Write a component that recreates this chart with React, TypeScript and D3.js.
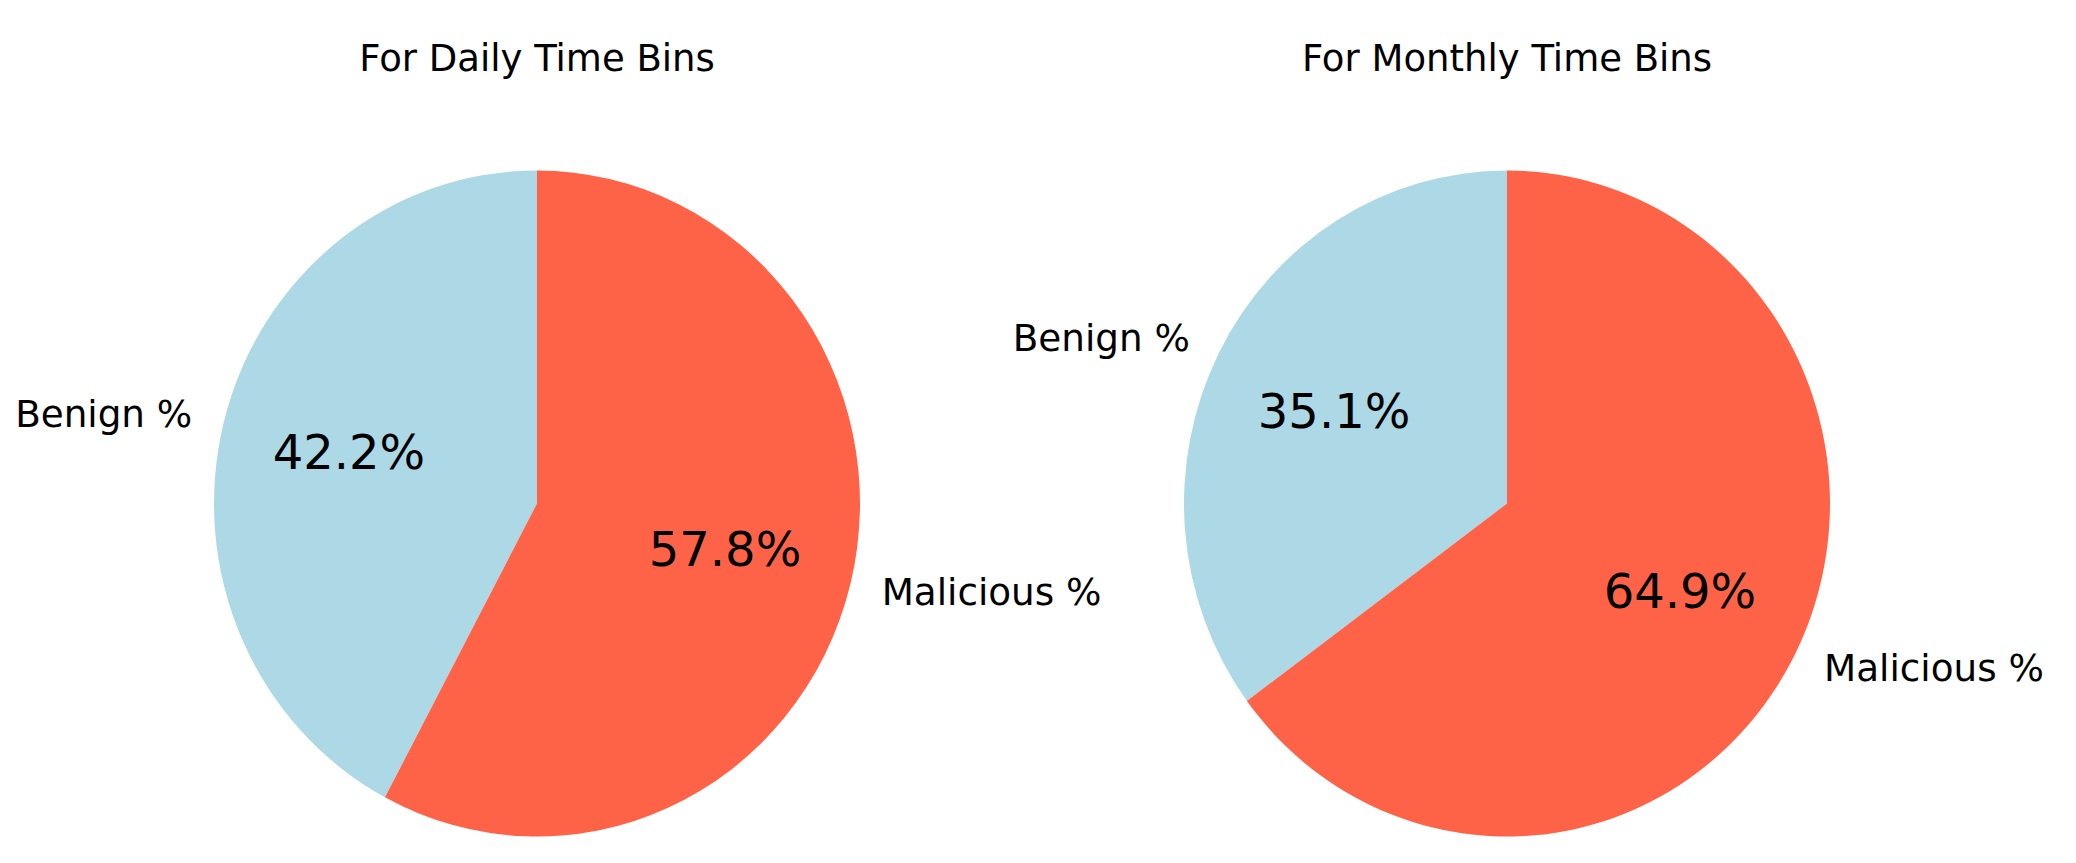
import React from "react";
import * as d3 from "d3";

const categories = ["Benign %", "Malicious %"];
const dailyValues = [42.2, 57.8];
const monthlyValues = [35.1, 64.9];
const titles = ["For Daily Time Bins", "For Monthly Time Bins"];
const colors = ["#ADD8E6", "#FF6347"];

const W = 2076;
const H = 863;
const RX = 323;
const RY = 333;
const CY = 503.5;
const CXS = [537, 1507];

function Pie({ cx, values, title }: { cx: number; values: number[]; title: string }) {
  const data = categories.map((c, i) => ({ label: c, value: values[i], color: colors[i] }));
  const pie = d3
    .pie<any>()
    .sort(null)
    .value((d: any) => d.value)
    .startAngle(0)
    .endAngle(-2 * Math.PI);
  const arcs = pie(data);
  const arc = d3.arc<any>().innerRadius(0).outerRadius(RX);
  const sy = RY / RX;
  return (
    <g>
      <text x={cx} y={70.7} textAnchor="middle" fontSize={37} fill="#000">
        {title}
      </text>
      <g transform={`translate(${cx},${CY}) scale(1,${sy})`}>
        {arcs.map((a, i) => (
          <path key={i} d={arc(a) as string} fill={a.data.color} />
        ))}
      </g>
      {arcs.map((a, i) => {
        const mid = (a.startAngle + a.endAngle) / 2;
        const sx = Math.sin(mid);
        const cy = -Math.cos(mid);
        const lx = cx + 1.1 * RX * sx;
        const ly = CY + 1.1 * RY * cy;
        const px = cx + 0.6 * RX * sx;
        const py = CY + 0.6 * RY * cy;
        return (
          <g key={"t" + i}>
            <text
              x={lx}
              y={ly}
              dy="0.33em"
              fontSize={37.3}
              textAnchor={sx < 0 ? "end" : "start"}
              fill="#000"
            >
              {a.data.label}
            </text>
            <text x={px} y={py} dy="0.3em" fontSize={48} textAnchor="middle" fill="#000">
              {`${a.data.value.toFixed(1)}%`}
            </text>
          </g>
        );
      })}
    </g>
  );
}

export default function App() {
  return (
    <svg
      width={W}
      height={H}
      style={{ position: "absolute", left: 0, top: 0, background: "#fff" }}
      fontFamily="'DejaVu Sans', sans-serif"
    >
      <rect width={W} height={H} fill="#fff" />
      <Pie cx={CXS[0]} values={dailyValues} title={titles[0]} />
      <Pie cx={CXS[1]} values={monthlyValues} title={titles[1]} />
    </svg>
  );
}
